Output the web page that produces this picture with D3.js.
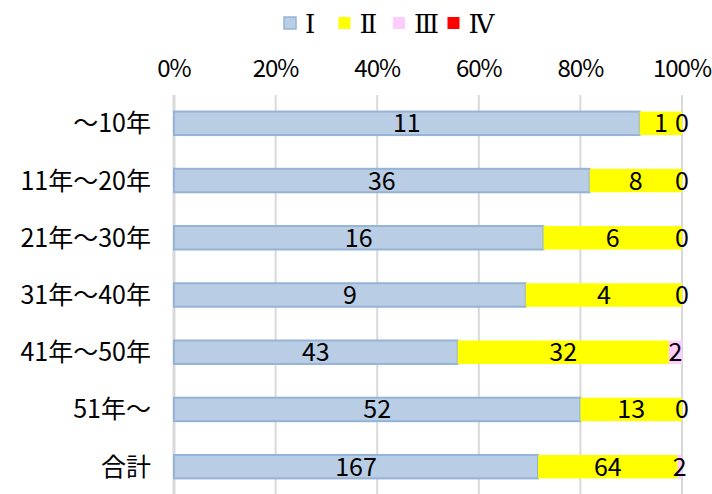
<!DOCTYPE html>
<html>
<head>
<meta charset="utf-8">
<script src="https://cdn.jsdelivr.net/npm/d3@7"></script>
<style>
  body { margin: 0; background: #fff; }
  text { font-family: "Noto Sans CJK JP", "Noto Sans", sans-serif; fill: #000; }
</style>
</head>
<body>
<div id="chart"></div>
<script>
var categories = ['～10年', '11年～20年', '21年～30年', '31年～40年', '41年～50年', '51年～', '合計'];
var seriesNames = ['Ⅰ', 'Ⅱ', 'Ⅲ', 'Ⅳ'];
var seriesI = [11, 36, 16, 9, 43, 52, 167];
var seriesII = [1, 8, 6, 4, 32, 13, 64];
var seriesIII = [0, 0, 0, 0, 2, 0, 2];
var seriesIV = [0, 0, 0, 0, 0, 0, 0];
var xTicks = [0, 0.2, 0.4, 0.6, 0.8, 1];

var colours = ['#B9CDE5', '#FFFF00', '#FFCCFF', '#FF0000'];
var fontSize = '25px';

function createChart() {
  var width = 712, height = 494;
  var margin = { top: 95, left: 174, bottom: 0 };
  var w = 682 - margin.left;
  var h = height - margin.top - margin.bottom;

  var svg = d3.select('#chart').append('svg')
    .attr('width', width)
    .attr('height', height);

  var g = svg.append('g')
    .attr('transform', 'translate(' + margin.left + ',' + margin.top + ')');

  return [svg, g, w, h];
}

function render() {
  var parts = createChart();
  var svg = parts[0], g = parts[1], w = parts[2], h = parts[3];

  var allSeries = [seriesI, seriesII, seriesIII, seriesIV];
  var rows = categories.map((c, i) => {
    var row = { cat: c };
    seriesNames.forEach((s, j) => { row[s] = allSeries[j][i]; });
    return row;
  });

  var stacked = d3.stack()
    .keys(seriesNames)
    .offset(d3.stackOffsetExpand)(rows);

  var x = d3.scaleLinear().domain([0, 1]).range([0, w]);
  var y = d3.scaleBand().domain(categories).range([0, 400]).paddingInner(0.59).paddingOuter(0.29);

  // gridlines
  g.selectAll('line.grid')
    .data(xTicks)
    .enter()
    .append('line')
    .attr('x1', d => x(d)).attr('x2', d => x(d))
    .attr('y1', 0).attr('y2', h)
    .style('stroke', '#D9D9D9')
    .style('stroke-width', d => d === 0 ? 3 : 2);

  // tick labels (tighter spacing so 100% fits like the original)
  g.selectAll('text.tick')
    .data(xTicks)
    .enter()
    .append('text')
    .attr('x', d => x(d))
    .attr('y', -18)
    .attr('text-anchor', 'middle')
    .style('font-size', '24px')
    .style('letter-spacing', '-1px')
    .text(d3.format('.0%'));

  // category labels
  g.selectAll('text.cat')
    .data(categories)
    .enter()
    .append('text')
    .attr('x', -23)
    .attr('y', d => y(d) + y.bandwidth() / 2)
    .attr('dy', '0.36em')
    .attr('text-anchor', 'end')
    .style('font-size', fontSize)
    .text(d => d);

  // bars
  var layers = g.selectAll('g.layer')
    .data(stacked)
    .enter()
    .append('g')
    .attr('class', 'layer');

  layers.selectAll('rect')
    .data((d, i) => d.map(p => ({ p: p, i: i })))
    .enter()
    .append('rect')
    .attr('x', d => x(d.p[0]))
    .attr('y', d => y(d.p.data.cat))
    .attr('width', d => x(d.p[1]) - x(d.p[0]))
    .attr('height', y.bandwidth())
    .style('fill', d => colours[d.i])
    .style('stroke', d => d.i === 0 ? '#95B3D7' : 'none')
    .style('stroke-width', 2);

  // data labels (series IV labels hidden)
  stacked.slice(0, 3).forEach((layer, i) => {
    g.selectAll(null)
      .data(layer)
      .enter()
      .append('text')
      .attr('x', d => x((d[0] + d[1]) / 2))
      .attr('y', d => y(d.data.cat) + y.bandwidth() / 2)
      .attr('dy', '0.36em')
      .attr('text-anchor', 'middle')
      .style('font-size', fontSize)
      .text(d => d.data[seriesNames[i]]);
  });

  // legend
  var legend = svg.append('g').attr('transform', 'translate(284,17)');
  var item = legend.selectAll('g')
    .data(seriesNames)
    .enter()
    .append('g')
    .attr('transform', (d, i) => 'translate(' + (i * 54.5) + ',0)');

  item.append('rect')
    .attr('width', 12).attr('height', 12)
    .style('fill', (d, i) => colours[i])
    .style('stroke', (d, i) => i === 0 ? '#95B3D7' : 'none')
    .style('stroke-width', 1.5);

  item.append('text')
    .attr('x', 21)
    .attr('y', 7)
    .attr('dy', '0.36em')
    .style('font-family', '"DejaVu Serif", serif')
    .style('font-size', '26px')
    .text(d => d);
}

render();
</script>
</body>
</html>
